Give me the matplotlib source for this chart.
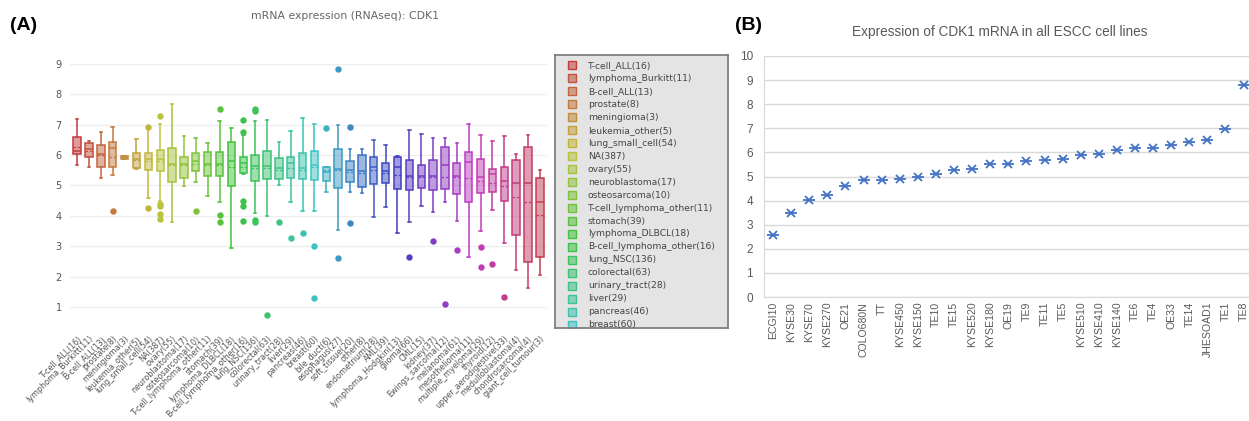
import colorsys
import matplotlib
matplotlib.use("Agg")
import matplotlib.pyplot as plt
import numpy as np

# ---- panel A data (box stats) ----
cats = ['T-cell_ALL(16)', 'lymphoma_Burkitt(11)', 'B-cell_ALL(13)', 'prostate(8)',
        'meningioma(3)', 'leukemia_other(5)', 'lung_small_cell(54)', 'NA(387)',
        'ovary(55)', 'neuroblastoma(17)', 'osteosarcoma(10)', 'T-cell_lymphoma_other(11)',
        'stomach(39)', 'lymphoma_DLBCL(18)', 'B-cell_lymphoma_other(16)', 'lung_NSC(136)',
        'colorectal(63)', 'urinary_tract(28)', 'liver(29)', 'pancreas(46)', 'breast(60)',
        'bile_duct(6)', 'esophagus(27)', 'soft_tissue(20)', 'other(8)', 'endometrium(28)',
        'AML(39)', 'lymphoma_Hodgkin(13)', 'glioma(66)', 'CML(15)', 'kidney(37)',
        'Ewings_sarcoma(12)', 'melanoma(61)', 'mesothelioma(11)', 'multiple_myeloma(29)',
        'thyroid(12)', 'upper_aerodigestive(33)', 'medulloblastoma(4)', 'chondrosarcoma(4)',
        'giant_cell_tumour(3)']

whis_hi = [7.17, 6.46, 6.74, 6.92, 5.97, 6.54, 6.85, 7.01, 7.69, 6.63, 6.55, 6.39, 7.12, 6.88,
           6.66, 7.12, 7.15, 6.43, 6.79, 7.21, 7.01, 5.62, 6.99, 6.21, 6.21, 6.49, 6.33, 5.96,
           6.81, 6.70, 6.57, 6.57, 6.41, 7.03, 6.66, 6.46, 6.63, 6.03, 6.65, 5.52]
q3 = [6.60, 6.38, 6.33, 6.44, 5.97, 6.08, 6.05, 6.18, 6.22, 5.92, 6.05, 6.10, 6.09, 6.44,
      5.92, 6.00, 6.14, 5.89, 5.95, 6.05, 6.14, 5.62, 6.19, 5.79, 6.01, 5.92, 5.73, 5.94,
      5.85, 5.66, 5.83, 6.25, 5.74, 6.10, 5.87, 5.55, 5.59, 5.84, 6.25, 5.26]
med = [6.14, 6.19, 6.03, 6.22, 5.92, 5.86, 5.86, 5.86, 5.72, 5.70, 5.79, 5.70, 5.70, 5.79,
       5.75, 5.64, 5.64, 5.56, 5.75, 5.56, 5.68, 5.45, 5.54, 5.50, 5.48, 5.59, 5.48, 5.61,
       5.32, 5.30, 5.32, 5.68, 5.32, 5.78, 5.28, 5.37, 5.13, 5.07, 5.07, 4.45]
mean = [6.25, 6.14, 6.00, 5.94, 5.92, 5.84, 5.80, 5.79, 5.68, 5.68, 5.72, 5.66, 5.66, 5.61,
        5.60, 5.58, 5.58, 5.50, 5.56, 5.50, 5.59, 5.50, 5.50, 5.45, 5.42, 5.50, 5.42, 5.35,
        5.28, 5.27, 5.27, 5.28, 5.27, 5.23, 5.15, 5.08, 4.97, 4.61, 4.45, 4.02]
q1 = [6.03, 5.94, 5.62, 5.59, 5.86, 5.57, 5.52, 5.48, 5.10, 5.24, 5.48, 5.32, 5.30, 4.99,
      5.40, 5.15, 5.21, 5.21, 5.23, 5.21, 5.17, 5.15, 4.91, 5.11, 4.96, 5.04, 5.09, 4.89,
      4.85, 4.93, 4.86, 4.88, 4.72, 4.44, 4.75, 4.77, 4.50, 3.36, 2.50, 2.64]
whis_lo = [5.67, 5.59, 5.24, 5.35, 5.86, 5.54, 4.58, 4.48, 3.79, 4.99, 5.12, 4.65, 4.44, 2.93,
           5.36, 4.11, 3.99, 5.03, 4.45, 4.17, 4.15, 4.80, 3.55, 4.77, 4.76, 3.97, 4.30, 3.43,
           3.81, 4.32, 4.14, 4.46, 3.84, 2.64, 3.51, 4.19, 3.11, 2.22, 1.62, 2.06]
outliers = [[], [], [], [4.15], [], [], [6.93, 4.27], [7.27, 4.39, 4.32, 4.06, 3.90], [], [],
            [4.15], [], [7.52, 4.04, 3.79], [], [7.14, 6.77, 4.50, 4.32, 3.82],
            [7.50, 7.45, 3.86, 3.79], [0.73], [3.79], [3.27], [3.45], [3.02, 1.30], [6.88],
            [8.83, 2.61], [6.93, 3.77], [], [], [], [], [2.66], [], [3.16], [1.09], [2.88], [],
            [2.98, 2.32], [2.41], [1.33], [], [], []]

# the legend only shows its first entries (it scrolls)
legend_shown = 21

# ---- panel B data ----
cell_lines = ['ECGI10', 'KYSE30', 'KYSE70', 'KYSE270', 'OE21', 'COLO680N', 'TT', 'KYSE450',
              'KYSE150', 'TE10', 'TE15', 'KYSE520', 'KYSE180', 'OE19', 'TE9', 'TE11', 'TE5',
              'KYSE510', 'KYSE410', 'KYSE140', 'TE6', 'TE4', 'OE33', 'TE14', 'JHESOAD1',
              'TE1', 'TE8']
cdk1 = [2.56, 3.50, 4.03, 4.23, 4.60, 4.84, 4.86, 4.90, 4.99, 5.09, 5.29, 5.32, 5.52, 5.51,
        5.63, 5.68, 5.71, 5.89, 5.93, 6.10, 6.19, 6.19, 6.29, 6.43, 6.51, 6.96, 8.80]

W, H = 1249, 421
fig = plt.figure(figsize=(W / 100, H / 100), dpi=100)


def px_axes(x0, y0, x1, y1):
    return fig.add_axes([x0 / W, 1 - y1 / H, (x1 - x0) / W, (y1 - y0) / H])


n = len(cats)
colors = [colorsys.hls_to_rgb(i / n, 0.5, 0.52) for i in range(n)]

# ---------------- panel A ----------------
ax = px_axes(70, 50, 547, 330)
stats = []
for i in range(n):
    stats.append(dict(med=med[i], q1=q1[i], q3=q3[i], whislo=whis_lo[i], whishi=whis_hi[i],
                      mean=mean[i], fliers=outliers[i], label=cats[i]))
pos = np.arange(n)
art = ax.bxp(stats, positions=pos, widths=0.62, patch_artist=True, showmeans=True,
             meanline=True, capwidths=0.22)
for i in range(n):
    c = colors[i]
    art['boxes'][i].set(facecolor=(*c, 0.5), edgecolor=c, linewidth=1.1)
    art['medians'][i].set(color=c, linewidth=1.1)
    art['means'][i].set(color=c, linewidth=0.9, linestyle=(0, (2, 1.5)))
    for ln in art['whiskers'][2 * i:2 * i + 2] + art['caps'][2 * i:2 * i + 2]:
        ln.set(color=c, linewidth=1.1)
    art['fliers'][i].set(marker='o', markerfacecolor=c, markeredgecolor=c, markersize=3.6)

ax.set_xlim(-0.6, n - 0.4)
ax.set_ylim(0.25, 9.45)
ax.set_yticks(range(1, 10))
ax.grid(axis='y', color='#eeeeee', linewidth=0.9)
ax.set_axisbelow(True)
for s in ax.spines.values():
    s.set_visible(False)
ax.tick_params(axis='y', length=0, labelsize=7, labelcolor='#555555', pad=6)
ax.tick_params(axis='x', length=0, pad=3)
ax.set_xticks(pos)
ax.set_xticklabels(cats, rotation=45, ha='right', rotation_mode='anchor',
                   fontsize=5.8, color='#555555')
fig.text(345 / W, 1 - 16 / H, 'mRNA expression (RNAseq): CDK1', ha='center', va='center',
         fontsize=7.8, color='#666666')
fig.text(10 / W, 1 - 25 / H, '(A)', ha='left', va='center', fontsize=14, fontweight='bold',
         family='Liberation Sans')

# legend box (scrolling legend, last entry cut off at the bottom)
lg = px_axes(555, 55, 728, 328)
lg.set_facecolor('#e4e4e4')
for s in lg.spines.values():
    s.set_color('#777777')
    s.set_linewidth(1.2)
lg.set_xticks([])
lg.set_yticks([])
lg.set_xlim(0, 1)
lg.set_ylim(20.25, -0.8)
for i in range(legend_shown):
    lg.plot([0.1], [i], marker='s', markersize=5.5, markerfacecolor=(*colors[i], 0.55),
            markeredgecolor=colors[i], markeredgewidth=1.0, linestyle='none', clip_on=True)
    lg.text(0.19, i, cats[i], fontsize=6.6, color='#444444', va='center', ha='left',
            clip_on=True)

# ---------------- panel B ----------------
bx = px_axes(764, 56, 1249, 297)
xb = np.arange(len(cell_lines))
bx.plot(xb, cdk1, linestyle='none', marker='x', markersize=6, markeredgewidth=1.3,
        color='#4472C4')
bx.plot(xb, cdk1, linestyle='none', marker='_', markersize=8, markeredgewidth=1.3,
        color='#4472C4')
bx.set_xlim(-0.5, len(cell_lines) - 0.7)
bx.set_ylim(0, 10)
bx.set_yticks(range(0, 11))
bx.grid(axis='y', color='#d9d9d9', linewidth=1)
bx.set_axisbelow(True)
for k in ['top', 'right']:
    bx.spines[k].set_visible(False)
for k in ['left', 'bottom']:
    bx.spines[k].set_color('#d9d9d9')
bx.tick_params(length=0)
bx.tick_params(axis='y', labelsize=8.5, labelcolor='#595959', pad=8)
bx.set_xticks(xb)
bx.set_xticklabels(cell_lines, rotation=90, fontsize=7.6, color='#595959',
                   family='Liberation Sans')
for t in bx.get_yticklabels():
    t.set_family('Liberation Sans')
fig.text(1000 / W, 1 - 32 / H, 'Expression of CDK1 mRNA in all ESCC cell lines', ha='center',
         va='center', fontsize=9.8, color='#595959', family='Liberation Sans')
fig.text(735 / W, 1 - 25 / H, '(B)', ha='left', va='center', fontsize=14, fontweight='bold',
         family='Liberation Sans')

fig.savefig('out.png', dpi=100)
